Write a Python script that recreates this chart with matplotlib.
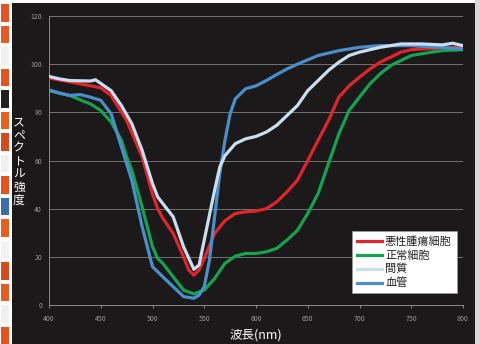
import matplotlib
matplotlib.use('Agg')
import matplotlib.pyplot as plt
from matplotlib.patches import Rectangle

plt.rcParams['font.family'] = ['Noto Sans CJK JP', 'DejaVu Sans']

# スペクトル (波長 nm, 強度)
wl_akusei = [400, 450, 460, 475, 490, 500, 505, 510, 520, 530, 535, 540, 545, 550, 560, 570, 580,
             590, 600, 610, 620, 630, 640, 650, 660, 670, 680, 690, 700, 710, 720, 730, 740, 750,
             760, 780, 800]
akusei = [94.3, 90.2, 87, 76.6, 61.5, 46, 40, 36, 29.7, 20, 14.5, 12.4, 14.5, 19.3, 29.7, 35, 38,
          38.7, 39, 40, 42.8, 47, 51.8, 60, 68.4, 76.6, 86.3, 91, 94.6, 98, 100.8, 102.9, 105, 106,
          106.3, 106.7, 107.3]

wl_seijo = [400, 420, 430, 440, 450, 460, 470, 475, 480, 490, 500, 505, 510, 520, 530, 540, 550,
            560, 570, 580, 590, 600, 610, 620, 630, 640, 650, 660, 670, 680, 690, 700, 710, 720,
            730, 740, 750, 760, 770, 780, 800]
seijo = [89, 87, 85.2, 83.5, 80.8, 76, 68.4, 61.5, 56, 40.7, 24.2, 19.3, 17.3, 11.7, 6.2, 4.6, 6.2,
         11, 17.3, 20.3, 21.4, 21.4, 22.1, 23.5, 27, 31, 38, 46.3, 58.7, 71, 80.8, 86.3, 91.8, 96,
         99.4, 101.5, 103.6, 104.3, 105, 105.6, 106]

wl_kanshitsu = [400, 410, 420, 440, 445, 450, 460, 470, 480, 490, 500, 505, 510, 520, 530, 540,
                545, 550, 560, 565, 570, 580, 590, 600, 610, 620, 630, 640, 650, 660, 670, 680,
                690, 700, 720, 740, 760, 780, 790, 800]
kanshitsu = [94.9, 93.9, 93.2, 93, 93.5, 92, 89, 82.8, 75.3, 64.2, 50.4, 44.9, 42.1, 36.6, 24.2,
             14.8, 16.6, 27, 47.6, 57.3, 62, 67, 69, 70, 71.8, 74.6, 78.7, 82.8, 89, 93.2, 97.4,
             100.8, 103.6, 105, 107, 108.4, 108.4, 108, 108.7, 107.7]

wl_kekkan = [400, 410, 420, 430, 440, 450, 460, 470, 480, 490, 500, 510, 520, 530, 540, 545, 550,
             555, 560, 565, 570, 575, 580, 590, 600, 610, 620, 630, 640, 650, 660, 680, 700, 720,
             750, 800]
kekkan = [89.3, 88, 87, 87.4, 86.3, 85, 79.4, 65.6, 51.8, 32.5, 15.9, 11.7, 7.6, 3.5, 2.8, 4.1, 7.6,
          18.6, 36.6, 54.5, 68.4, 79.4, 85.6, 89.8, 91, 93.2, 95.7, 98, 100, 101.8, 103.6, 105.6,
          107, 107.7, 107.7, 106.3]

x_ticks = [400, 450, 500, 550, 600, 650, 700, 750, 800]
y_ticks = [0, 20, 40, 60, 80, 100, 120]

fig = plt.figure(figsize=(4.81, 3.44), dpi=100)
fig.patch.set_facecolor('white')

# 背景パネル
fig.add_artist(Rectangle((12 / 481, 0), 463 / 481, 341 / 344, transform=fig.transFigure,
                         facecolor='#1b1919', edgecolor='none', zorder=0))
fig.add_artist(Rectangle((475 / 481, 0), 6 / 481, 1, transform=fig.transFigure,
                         facecolor='#d8d8d8', edgecolor='none', zorder=0))
strip_colors = ['#e8501e', '#f0f0f0', '#e85a20', '#d84a1a', '#f2f2f2', '#e8601e', '#3a6ea8',
                '#e8501e', '#f0f0f0', '#d84a1a', '#e8601e', '#202020', '#e8501e', '#f0f0f0',
                '#e85a20', '#e8501e']
n = len(strip_colors)
for i, c in enumerate(strip_colors):
    fig.add_artist(Rectangle((1 / 481, i / n), 8 / 481, 1 / n * 0.8, transform=fig.transFigure,
                             facecolor=c, edgecolor='none', zorder=0))

ax = fig.add_axes([49 / 481, 39 / 344, 414 / 481, 289 / 344])
ax.set_facecolor('none')

ax.plot(wl_akusei, akusei, color='#e2242b', lw=2.3, label='悪性腫瘍細胞', zorder=3)
ax.plot(wl_seijo, seijo, color='#16a350', lw=2.3, label='正常細胞', zorder=2)
ax.plot(wl_kanshitsu, kanshitsu, color='#c9dff0', lw=2.3, label='間質', zorder=4)
ax.plot(wl_kekkan, kekkan, color='#4a8fc9', lw=2.3, label='血管', zorder=3)

ax.set_xlim(400, 800)
ax.set_ylim(0, 120)
ax.set_xticks(x_ticks)
ax.set_yticks(y_ticks)
ax.grid(axis='y', color='#808080', lw=0.6)
for s in ['top', 'right']:
    ax.spines[s].set_visible(False)
for s in ['left', 'bottom']:
    ax.spines[s].set_color('#8a8a8a')
    ax.spines[s].set_linewidth(0.7)
ax.tick_params(colors='#9a9a9a', labelsize=5, length=2, width=0.6, pad=5)
ax.tick_params(axis='y', length=0)

ax.set_xlabel('波長(nm)', color='white', fontsize=9, labelpad=4)
fig.text(19 / 481, 1 - 161 / 344, '\n'.join('スペクトル強度'), color='white', fontsize=8.5,
         ha='center', va='center', linespacing=1.0)

leg = ax.legend(loc='lower right', bbox_to_anchor=(0.985, 0.04), fontsize=8, frameon=True,
                fancybox=False, framealpha=1, handlelength=2.2, handletextpad=0.3,
                borderpad=0.45, labelspacing=0.3, borderaxespad=0)
leg.get_frame().set_edgecolor('#999999')
leg.get_frame().set_linewidth(0.6)
for t in leg.get_texts():
    t.set_color('#202020')

fig.savefig('out.png', dpi=100, facecolor=fig.get_facecolor())
